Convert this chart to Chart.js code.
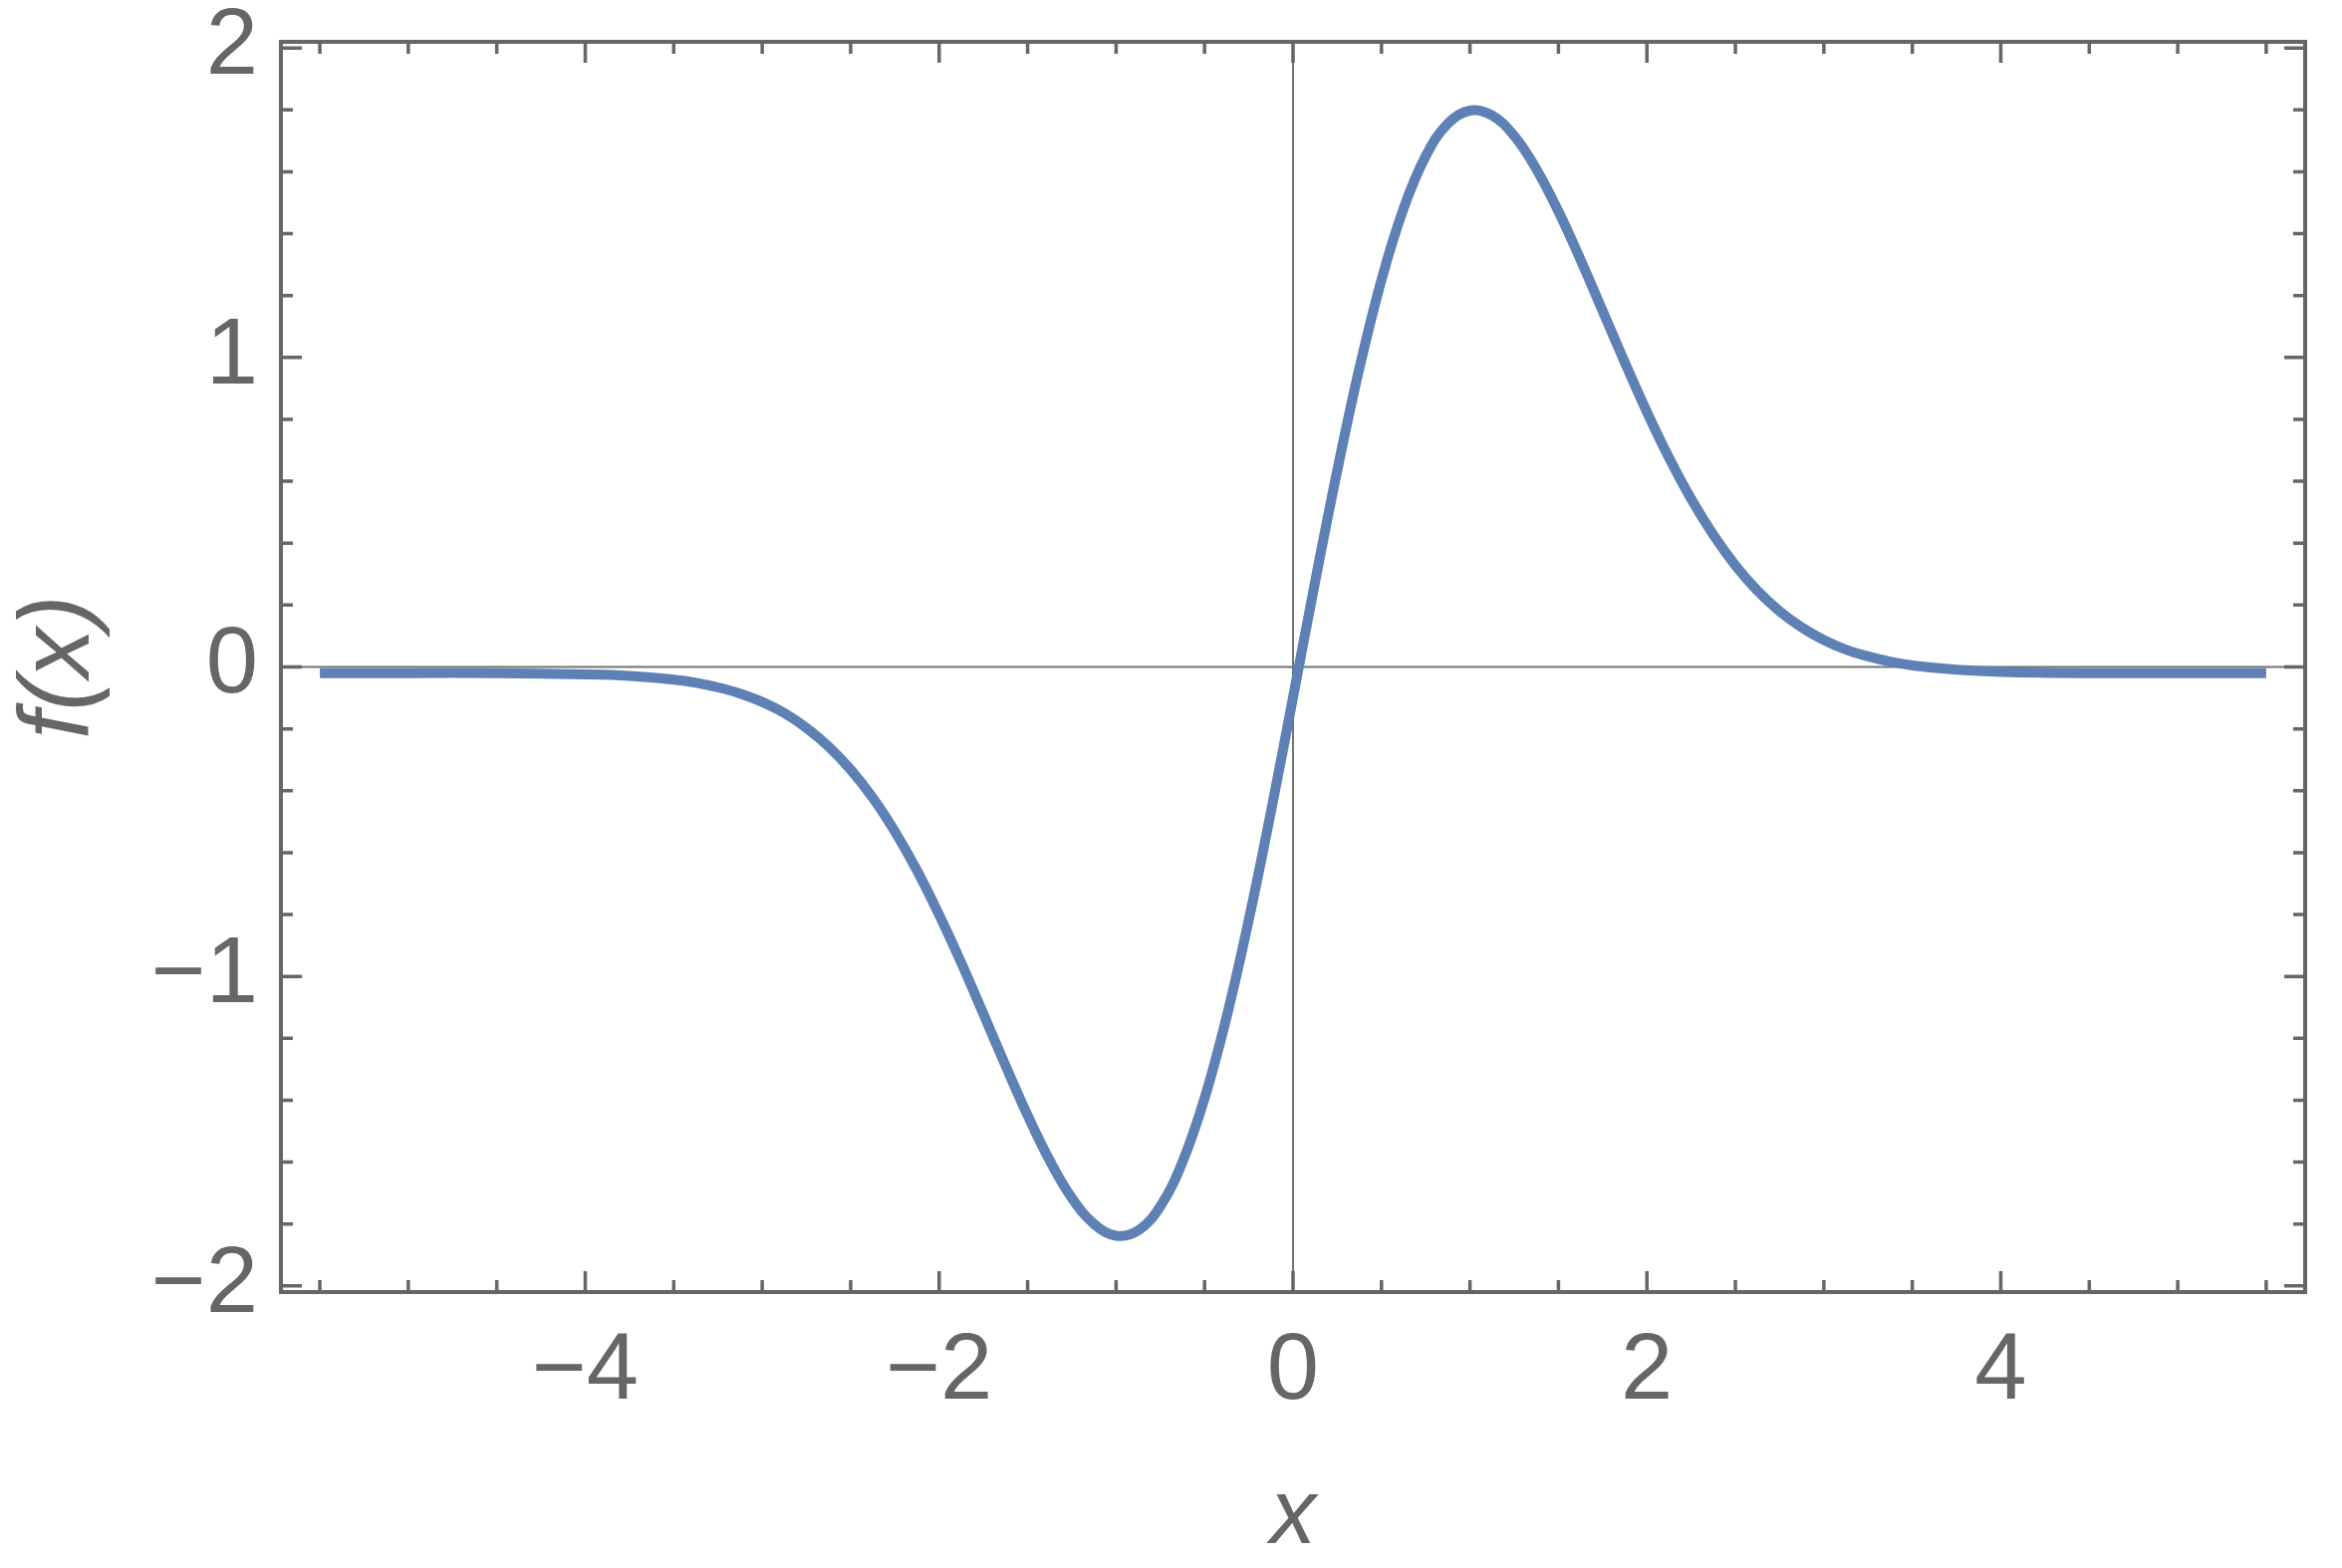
<!DOCTYPE html>
<html lang="en">
<head>
    <meta charset="UTF-8">
    <title>f(x)</title>
    <style>
        body {
            margin: 0;
            background-color: white;
        }
        #plot {
            display: block;
        }
    </style>
    <script src="https://cdn.jsdelivr.net/npm/chart.js"></script>
</head>
<body>
    <canvas id="plot" width="2351" height="1574"></canvas>

    <script>
        // values
        const xValues = [-5.5, -5, -4.5, -4, -3.75, -3.5, -3.375, -3.25, -3.125, -3, -2.875, -2.75, -2.625, -2.5,
            -2.375, -2.25, -2.125, -2, -1.875, -1.75, -1.625, -1.5, -1.375, -1.25, -1.125, -1,
            -0.875, -0.75, -0.625, -0.5, -0.375, -0.25, -0.125, 0, 0.125, 0.25,
            0.375, 0.5, 0.625, 0.75, 0.875, 1, 1.125, 1.25, 1.375, 1.5,
            1.625, 1.75, 1.875, 2, 2.125, 2.25, 2.375, 2.5, 2.625, 2.75, 2.875, 3, 3.125, 3.25, 3.375, 3.5,
            3.75, 4, 4.5, 5, 5.5];
        const fValues = [-0.02, -0.02, -0.02, -0.024, -0.029, -0.041, -0.051, -0.066, -0.086, -0.113, -0.149, -0.197, -0.257, -0.332,
            -0.423, -0.532, -0.658, -0.801, -0.956, -1.121, -1.288, -1.449, -1.595, -1.716, -1.800, -1.838,
            -1.821, -1.743, -1.600, -1.394, -1.130, -0.817, -0.468, -0.098, 0.276, 0.635,
            0.965, 1.251, 1.482, 1.651, 1.756, 1.798, 1.782, 1.716, 1.609, 1.472,
            1.316, 1.150, 0.984, 0.824, 0.676, 0.543, 0.427, 0.328, 0.246, 0.180, 0.128, 0.087, 0.056, 0.034, 0.017, 0.005,
            -0.009, -0.016, -0.02, -0.02, -0.02];

        const xTicks = [-4, -2, 0, 2, 4];
        const yTicks = [-2, -1, 0, 1, 2];

        const grey = '#666666';
        const fontFamily = '"Liberation Sans", Arial, sans-serif';

        function fmt(v) {
            return v < 0 ? '\u2212' + Math.abs(v) : String(v);
        }

        // Mathematica style frame: inward ticks on all four sides + axes through 0
        const framePlugin = {
            id: 'frame',
            beforeDatasetsDraw(chart) {
                const { ctx, chartArea: a, scales: { x, y } } = chart;
                ctx.save();

                ctx.strokeStyle = '#737373';
                ctx.lineWidth = 2;
                ctx.beginPath();
                const x0 = x.getPixelForValue(0);
                const y0 = y.getPixelForValue(0);
                ctx.moveTo(a.left, y0);
                ctx.lineTo(a.right, y0);
                ctx.moveTo(x0, a.top);
                ctx.lineTo(x0, a.bottom);
                ctx.stroke();

                ctx.strokeStyle = grey;
                ctx.lineWidth = 3.5;
                ctx.beginPath();
                for (let i = -11; i <= 11; i++) {
                    const px = x.getPixelForValue(i / 2);
                    const len = i % 4 === 0 ? 21 : 12;
                    ctx.moveTo(px, a.bottom);
                    ctx.lineTo(px, a.bottom - len);
                    ctx.moveTo(px, a.top);
                    ctx.lineTo(px, a.top + len);
                }
                for (let i = -10; i <= 10; i++) {
                    const py = y.getPixelForValue(i / 5);
                    const len = i % 5 === 0 ? 21 : 12;
                    ctx.moveTo(a.left, py);
                    ctx.lineTo(a.left + len, py);
                    ctx.moveTo(a.right, py);
                    ctx.lineTo(a.right - len, py);
                }
                ctx.stroke();

                ctx.lineWidth = 4;
                ctx.strokeRect(a.left, a.top, a.right - a.left, a.bottom - a.top);
                ctx.restore();
            }
        };

        const points = xValues.map((v, i) => ({ x: v, y: fValues[i] }));

        new Chart(document.getElementById('plot').getContext('2d'), {
            type: 'line',
            data: {
                datasets: [{
                    data: points,
                    borderColor: '#5e81b5',
                    borderWidth: 10,
                    pointRadius: 0,
                    fill: false,
                    tension: 0.4
                }]
            },
            options: {
                responsive: false,
                animation: false,
                layout: {
                    padding: { top: 42, right: 37, left: 0, bottom: 0 }
                },
                plugins: {
                    legend: { display: false },
                    tooltip: { enabled: false }
                },
                scales: {
                    x: {
                        type: 'linear',
                        min: -5.72,
                        max: 5.72,
                        grid: { display: false },
                        border: { display: false },
                        afterBuildTicks: s => { s.ticks = xTicks.map(v => ({ value: v })); },
                        afterFit: s => { s.height = 277; s.paddingLeft = 0; s.paddingRight = 0; },
                        ticks: {
                            color: grey,
                            padding: 17,
                            maxRotation: 0,
                            autoSkip: false,
                            font: { family: fontFamily, size: 94 },
                            callback: v => fmt(v)
                        },
                        title: {
                            display: true,
                            text: 'x',
                            color: grey,
                            padding: { top: 0, bottom: -5 },
                            font: { family: fontFamily, size: 92, style: 'italic' }
                        }
                    },
                    y: {
                        type: 'linear',
                        min: -2.02,
                        max: 2.02,
                        grid: { display: false },
                        border: { display: false },
                        afterBuildTicks: s => { s.ticks = yTicks.map(v => ({ value: v })); },
                        afterFit: s => { s.width = 282; s.paddingTop = 0; s.paddingBottom = 0; },
                        ticks: {
                            color: grey,
                            padding: 15,
                            autoSkip: false,
                            font: { family: fontFamily, size: 94 },
                            callback: v => fmt(v)
                        },
                        title: {
                            display: true,
                            text: 'f(x)',
                            color: grey,
                            padding: { top: 1, bottom: 0 },
                            font: { family: fontFamily, size: 100, style: 'italic' }
                        }
                    }
                }
            },
            plugins: [framePlugin]
        });
    </script>
</body>
</html>
